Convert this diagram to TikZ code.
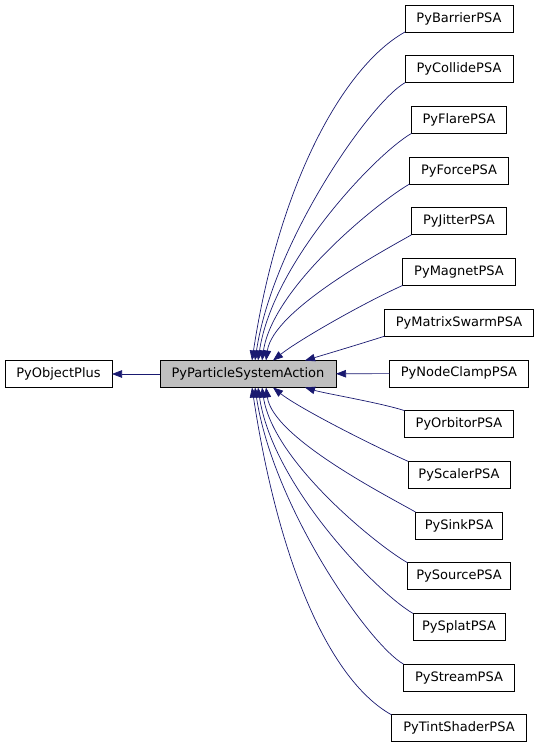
\documentclass[tikz,border=0pt]{standalone}
\usepackage{fontspec}
\setmainfont{DejaVu Sans}
\usepackage{xcolor}
\usepackage{tikz}
\usetikzlibrary{arrows.meta,positioning}

\definecolor{edgeblue}{HTML}{191970}
\definecolor{basegray}{HTML}{BFBFBF}

\begin{document}
\begin{tikzpicture}[
    x=1pt, y=-1pt,
    node distance=23.7pt,
    cls/.style={rectangle, draw, line width=0.8pt, minimum height=27pt, inner sep=0pt, outer sep=0pt, font=\fontsize{13}{15}\selectfont},
    base/.style={cls, fill=basegray},
    inherit/.style={draw=edgeblue, line width=0.7pt, -{Triangle[length=10pt,width=7.5pt]}}
]
    \useasboundingbox (0,0) rectangle (538,746);

    \node[base, minimum width=176pt] (psa) at (248,374) {PyParticleSystemAction};
    \node[cls, minimum width=107pt, left=48pt of psa] (objplus) {PyObjectPlus};

    \node[cls, minimum width=108pt] (barrier) at (459,18.5) {PyBarrierPSA};
    \node[cls, minimum width=108pt, below=of barrier] (collide) {PyCollidePSA};
    \node[cls, minimum width=95pt, below=of collide] (flare) {PyFlarePSA};
    \node[cls, minimum width=99pt, below=of flare] (force) {PyForcePSA};
    \node[cls, minimum width=95pt, below=of force] (jitter) {PyJitterPSA};
    \node[cls, minimum width=113pt, below=of jitter] (magnet) {PyMagnetPSA};
    \node[cls, minimum width=149pt, below=of magnet] (matrix) {PyMatrixSwarmPSA};
    \node[cls, minimum width=139pt, below=of matrix] (nodeclamp) {PyNodeClampPSA};
    \node[cls, minimum width=109pt, below=of nodeclamp] (orbitor) {PyOrbitorPSA};
    \node[cls, minimum width=102pt, below=of orbitor] (scaler) {PyScalerPSA};
    \node[cls, minimum width=87pt, below=of scaler] (sink) {PySinkPSA};
    \node[cls, minimum width=103pt, below=of sink] (source) {PySourcePSA};
    \node[cls, minimum width=92pt, below=of source] (splat) {PySplatPSA};
    \node[cls, minimum width=111pt, below=of splat] (stream) {PyStreamPSA};
    \node[cls, minimum width=135pt, below=of stream] (tint) {PyTintShaderPSA};

    \draw[inherit] (psa) -- (objplus);

    % children above the base class
    \draw[inherit] (barrier.south west) .. controls +(-61,34) and +(27,-178) .. ([xshift=92pt]psa.north west);
    \draw[inherit] (collide.south west) .. controls +(-35,20) and +(18,-119) .. ([xshift=95pt]psa.north west);
    \draw[inherit] (flare.south west) .. controls +(-35,20) and +(15,-99) .. ([xshift=98pt]psa.north west);
    \draw[inherit] (force.south west) .. controls +(-30,17) and +(11,-74) .. ([xshift=102pt]psa.north west);
    \draw[inherit] (jitter.south west) .. controls +(-30,17) and +(7,-50) .. ([xshift=106pt]psa.north west);
    \draw[inherit] (magnet.south west) .. controls +(-40,18) and +(25,-20) .. ([xshift=113pt]psa.north west);
    \draw[inherit] (matrix.south west) .. controls +(-25,8) and +(20,-6) .. ([xshift=145pt]psa.north west);

    \draw[inherit] (nodeclamp) -- (psa);

    % children below the base class
    \draw[inherit] (orbitor.north west) .. controls +(-25,-8) and +(20,6) .. ([xshift=145pt]psa.south west);
    \draw[inherit] (scaler.north west) .. controls +(-40,-18) and +(25,20) .. ([xshift=113pt]psa.south west);
    \draw[inherit] (sink.north west) .. controls +(-30,-17) and +(7,50) .. ([xshift=106pt]psa.south west);
    \draw[inherit] (source.north west) .. controls +(-30,-17) and +(11,74) .. ([xshift=102pt]psa.south west);
    \draw[inherit] (splat.north west) .. controls +(-35,-20) and +(15,99) .. ([xshift=98pt]psa.south west);
    \draw[inherit] (stream.north west) .. controls +(-35,-20) and +(18,119) .. ([xshift=95pt]psa.south west);
    \draw[inherit] (tint.north west) .. controls +(-61,-34) and +(27,178) .. ([xshift=92pt]psa.south west);
\end{tikzpicture}
\end{document}
